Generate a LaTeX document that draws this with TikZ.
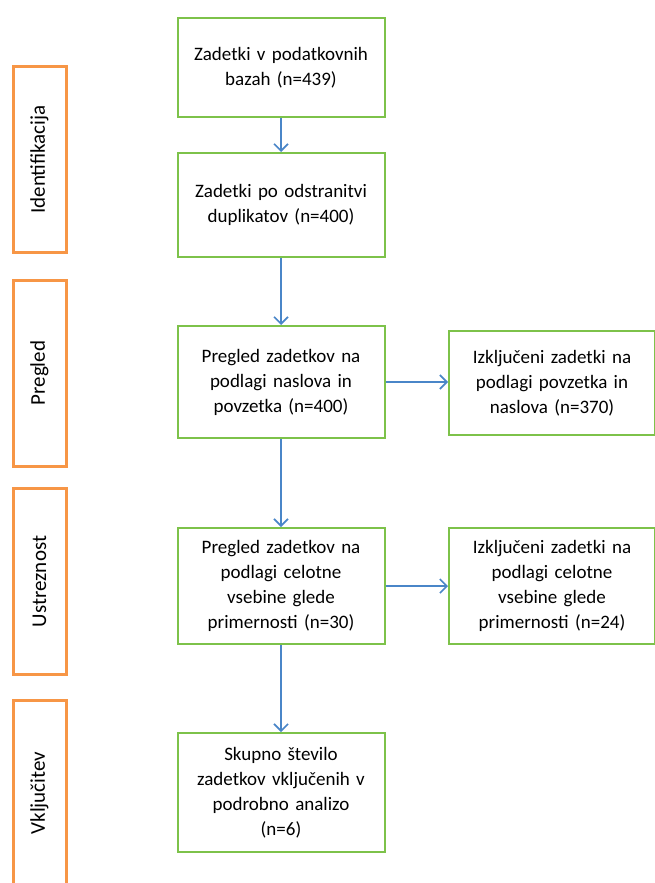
\documentclass[tikz,border=0pt]{standalone}
\usepackage{fontspec}
\setmainfont{Carlito}
\usepackage{tikz}
\usetikzlibrary{arrows.meta,positioning}
\definecolor{fazaorange}{HTML}{F79646}
\definecolor{okvirgreen}{HTML}{7DC24A}
\definecolor{puscablue}{HTML}{4A86C8}

\tikzset{
  faza/.style={draw=fazaorange, line width=3pt, rotate=90, minimum width=186pt, minimum height=53pt, inner sep=0pt, font=\fontsize{21pt}{24pt}\selectfont},
  korak/.style={draw=okvirgreen, line width=2pt, align=center, inner sep=0pt, text width=200pt, font=\fontsize{19pt}{25pt}\selectfont},
  pusca/.style={draw=puscablue, line width=2pt, -{Straight Barb[length=7pt,width=14pt,line width=1.6pt]}}
}

\begin{document}
\begin{tikzpicture}[x=1pt,y=-1pt]
\useasboundingbox (0,0) rectangle (654,883);

% faze
\node[faza] (identifikacija) at (39.5,159.5) {Identifikacija};
\node[faza] (pregled) at (39.5,373) {Pregled};
\node[faza] (ustreznost) at (39.5,581.5) {Ustreznost};
\node[faza] (vkljucitev) at (39.5,793) {Vključitev};

% glavni stolpec
\node[korak, minimum width=207pt, minimum height=99pt] (baze) at (281,67.5) {Zadetki v podatkovnih\\bazah (n=439)};
\node[korak, minimum width=207pt, minimum height=104pt] (duplikati) at (281,205) {Zadetki po odstranitvi\\duplikatov (n=400)};
\node[korak, minimum width=207pt, minimum height=112pt] (naslovi) at (281,382) {Pregled zadetkov na\\podlagi naslova in\\povzetka (n=400)};
\node[korak, minimum width=207pt, minimum height=116pt] (vsebina) at (281,586) {Pregled zadetkov na\\podlagi celotne\\vsebine glede\\primernosti (n=30)};
\node[korak, minimum width=207pt, minimum height=119pt] (analiza) at (281,792.5) {Skupno število\\zadetkov vključenih v\\podrobno analizo\\(n=6)};

% izkljuceni
\node[korak, minimum width=206pt, minimum height=104pt] (izklj1) at (552,383) {Izključeni zadetki na\\podlagi povzetka in\\naslova (n=370)};
\node[korak, minimum width=206pt, minimum height=116pt] (izklj2) at (552,586) {Izključeni zadetki na\\podlagi celotne\\vsebine glede\\primernosti (n=24)};

% puscice
\draw[pusca] (baze) -- (duplikati);
\draw[pusca] (duplikati) -- (naslovi);
\draw[pusca] (naslovi) -- (naslovi -| izklj1.west);
\draw[pusca] (naslovi) -- (vsebina);
\draw[pusca] (vsebina) -- (izklj2);
\draw[pusca] (vsebina) -- (analiza);

\end{tikzpicture}
\end{document}
